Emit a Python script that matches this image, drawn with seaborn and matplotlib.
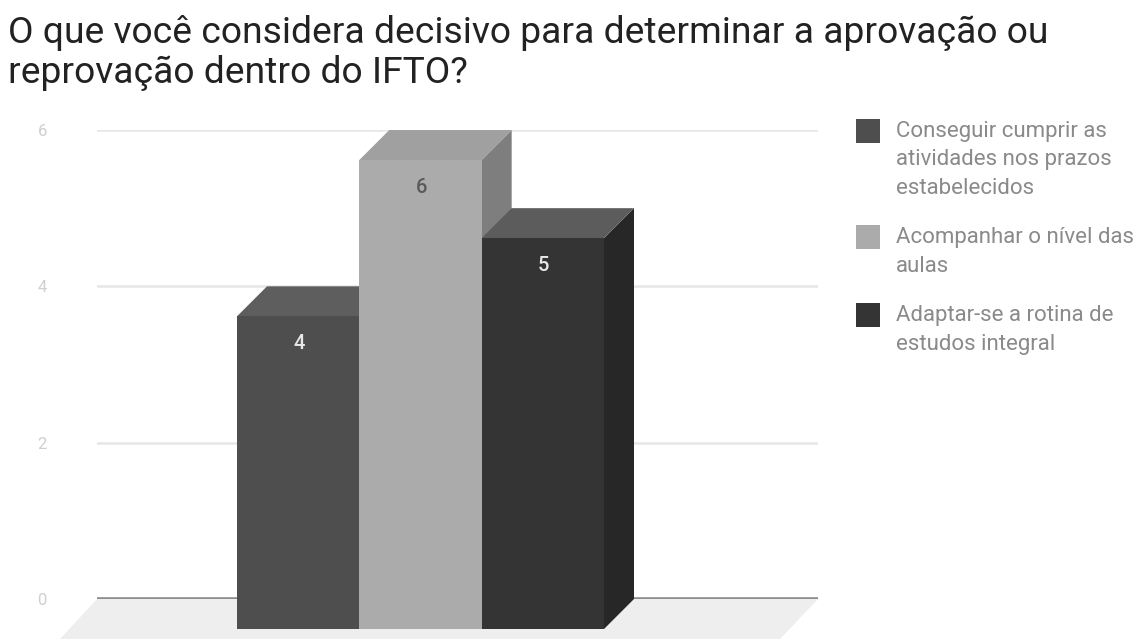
import matplotlib
matplotlib.use("Agg")
import matplotlib.pyplot as plt
import pandas as pd
import seaborn as sns
from matplotlib.patches import Polygon
from matplotlib.transforms import Affine2D

W, H = 1141, 642
TITLE = "O que você considera decisivo para determinar a aprovação ou\nreprovação dentro do IFTO?"
series = ["Conseguir cumprir as\natividades nos prazos\nestabelecidos",
          "Acompanhar o nível das\naulas",
          "Adaptar-se a rotina de\nestudos integral"]
values = [4, 6, 5]
front_colors = ["#4e4e4e", "#ababab", "#343434"]
top_colors = ["#5e5e5e", "#a0a0a0", "#5c5c5c"]
side_colors = ["#3c3c3c", "#7e7e7e", "#272727"]
yticks = [0, 2, 4, 6]

sns.set_theme(style="white")
plt.rcParams["font.family"] = ["Roboto", "DejaVu Sans"]

fig = plt.figure(figsize=(W / 100, H / 100), dpi=100)
ax = fig.add_axes([97 / W, 1 - 599 / H, (818 - 97) / W, (599 - 130) / H])
ax.patch.set_alpha(0)

df = pd.DataFrame({"grupo": [""] * 3, "serie": series, "valor": values})
sns.barplot(data=df, x="grupo", y="valor", hue="serie", hue_order=series,
            palette=front_colors, saturation=1, width=0.8, legend=False,
            ax=ax, zorder=5, linewidth=0)

ax.set_xlim(-0.4 - (267 - 97) / 458.75, 0.4 + (818 - 634) / 458.75)
ax.set_ylim(0, 6)
ax.set_xlabel("")
ax.set_ylabel("")
ax.set_xticks([])
ax.set_yticks(yticks)
ax.set_yticklabels([str(v) for v in yticks], fontsize=12, color="#cfcfcf")
ax.tick_params(axis="y", length=0, pad=36)
ax.grid(False)
for s in ax.spines.values():
    s.set_visible(False)
for v in yticks[1:]:
    ax.axhline(v, color="#e6e6e6", lw=1.8, zorder=1)
ax.axhline(0, color="#8c8c8c", lw=2.6, zorder=2)

DEPTH = 30  # pixels of the 3D projection
back = ax.transData
front = back + Affine2D().translate(-DEPTH, -DEPTH)

bars = sorted(ax.patches, key=lambda r: r.get_x())

# Floor of the 3D scene
xa, xb = ax.get_xlim()
p0 = back.transform([(xa, 0), (xb, 0)])
floor = Polygon([p0[0], p0[1], p0[1] + (-38, -40), p0[0] + (-37, -40)],
                closed=True, facecolor="#eeeeee", edgecolor="none",
                transform=None, zorder=1.5, clip_on=False)
ax.add_patch(floor)

for i, bar in enumerate(bars):
    x0, x1 = bar.get_x(), bar.get_x() + bar.get_width()
    h = bar.get_height()
    (ax0, ay0), (ax1, ay1) = back.transform([(x0, 0), (x1, h)])
    z = 5 + i
    bar.set_transform(front)
    bar.set_clip_on(False)
    bar.set_zorder(z + 0.2)
    side = Polygon([(ax1, ay0), (ax1, ay1), (ax1 - DEPTH, ay1 - DEPTH), (ax1 - DEPTH, ay0 - DEPTH)],
                   facecolor=side_colors[i], edgecolor="none", transform=None, zorder=z, clip_on=False)
    top = Polygon([(ax0, ay1), (ax1, ay1), (ax1 - DEPTH, ay1 - DEPTH), (ax0 - DEPTH, ay1 - DEPTH)],
                  facecolor=top_colors[i], edgecolor="none", transform=None, zorder=z + 0.1, clip_on=False)
    ax.add_patch(side)
    ax.add_patch(top)
    ax.annotate(str(values[i]), xy=((x0 + x1) / 2, h), xycoords=front, xytext=(1, -27),
                textcoords="offset pixels", ha="center", va="center", fontsize=14.5,
                fontweight="medium",
                color="#5a5a5a" if i == 1 else "#e8e8e8", zorder=z + 0.3)

fig.text(8 / W, 1 - 15 / H, TITLE, fontsize=26.8, color="#222222", va="top", ha="left",
         linespacing=1.13)

# Legend
swatch_y = [119, 225, 303]
text_y = [160, 252, 330]
for s, c, y, ty in zip(series, front_colors, swatch_y, text_y):
    fig.patches.append(plt.Rectangle((856 / W, 1 - (y + 24) / H), 24 / W, 24 / H,
                                     transform=fig.transFigure, facecolor=c, edgecolor="none"))
    fig.text(896 / W, 1 - ty / H, s, fontsize=16, color="#8a8a8a",
             va="center", ha="left", linespacing=1.5)

fig.savefig("out.png", dpi=100, facecolor="white")
